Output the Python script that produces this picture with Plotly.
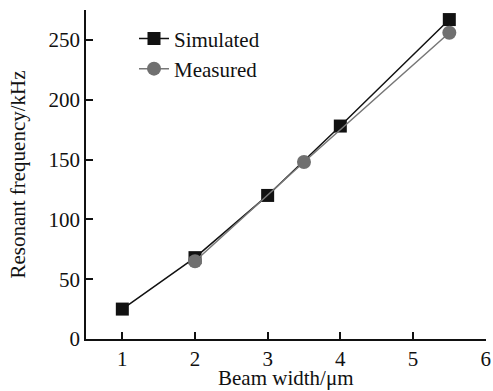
import plotly.graph_objects as go

sim_x = [1, 2, 3, 4, 5.5]
sim_y = [25, 68, 120, 178, 267]
meas_x = [2, 3.5, 5.5]
meas_y = [65, 148, 256]
x_ticks = [1, 2, 3, 4, 5, 6]
y_ticks = [0, 50, 100, 150, 200, 250]
x_title = "Beam width/μm"
y_title = "Resonant frequency/kHz"

fig = go.Figure()
fig.add_trace(go.Scatter(x=sim_x, y=sim_y, mode="lines+markers", name="Simulated",
                         line=dict(color="#111111", width=1.5),
                         marker=dict(symbol="square", size=13, color="#111111")))
fig.add_trace(go.Scatter(x=meas_x, y=meas_y, mode="lines+markers", name="Measured",
                         line=dict(color="#777777", width=1.5),
                         marker=dict(symbol="circle", size=14, color="#707070")))

fig.add_annotation(text=x_title, x=0.5, y=0, xref="paper", yref="paper",
                   xanchor="center", yanchor="bottom", yshift=-52, borderpad=0,
                   showarrow=False, font=dict(size=21))

fig.update_layout(
    width=493, height=391,
    margin=dict(l=86, r=7, t=10, b=52),
    paper_bgcolor="white", plot_bgcolor="white",
    font=dict(family="Liberation Serif, Times New Roman, serif", size=21, color="#111111"),
    showlegend=True,
    legend=dict(x=0.12, y=0.975, xanchor="left", yanchor="top",
                bgcolor="rgba(0,0,0,0)", font=dict(size=21), itemwidth=30,
                tracegroupgap=0),
    xaxis=dict(range=[0.5, 6.005], tickvals=x_ticks, ticks="inside", ticklen=7,
               tickwidth=1.5, tickcolor="#111111", automargin=False,
               showline=True, linecolor="#111111", linewidth=1.5, showgrid=False,
               zeroline=False, mirror=False),
    yaxis=dict(range=[0, 275], tickvals=y_ticks, ticks="inside", ticklen=7,
               tickwidth=1.5, tickcolor="#111111", automargin=False,
               showline=True, linecolor="#111111", linewidth=1.5, showgrid=False,
               zeroline=False, mirror=False,
               title=dict(text=y_title, standoff=17, font=dict(size=21))),
)

fig.write_html("out.html", config={"displayModeBar": False},
               post_script="document.body.style.margin='0';document.body.style.overflow='hidden';")
